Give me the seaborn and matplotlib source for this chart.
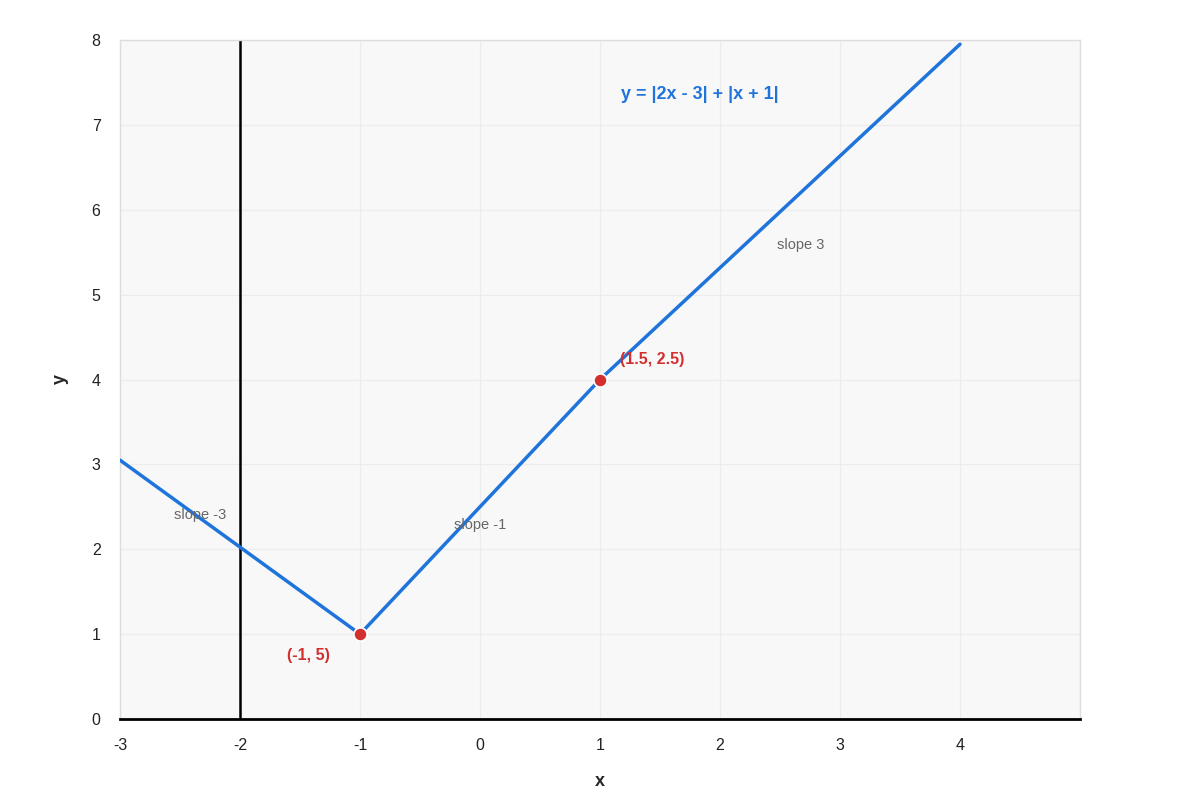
import matplotlib
matplotlib.use("Agg")
import matplotlib.pyplot as plt
import seaborn as sns
import pandas as pd

# Data
line_x = [-3, -1, 1, 4]
line_y = [3.05, 1.0, 4.0, 7.95]
point_x = [-1, 1]
point_y = [1.0, 4.0]
point_labels = ["(-1, 5)", "(1.5, 2.5)"]
slope_labels = ["slope -3", "slope -1", "slope 3"]
slope_x = [-2.33, 0.0, 2.67]
slope_y = [2.40, 2.29, 5.58]
x_ticks = [-3, -2, -1, 0, 1, 2, 3, 4]
y_ticks = [0, 1, 2, 3, 4, 5, 6, 7, 8]
title_text = "y = |2x - 3| + |x + 1|"

sns.set_theme(style="white")
plt.rcParams['font.family'] = ['Liberation Sans', 'DejaVu Sans']

fig = plt.figure(figsize=(12, 8), dpi=100)
ax = fig.add_axes([0.1, 0.10125, 0.8, 0.84875])
ax.set_facecolor("#f8f8f8")

line_df = pd.DataFrame({"x": line_x, "y": line_y})
sns.lineplot(data=line_df, x="x", y="y", ax=ax, color="#1f74dc", linewidth=2.5,
             sort=False, zorder=3)
pts_df = pd.DataFrame({"x": point_x, "y": point_y})
sns.scatterplot(data=pts_df, x="x", y="y", ax=ax, color="#d32f2f", s=90,
                edgecolor="white", linewidth=1.2, zorder=4)

ax.set_xlim(-3, 5)
ax.set_ylim(0, 8)
ax.set_yticks(y_ticks)
ax.set_xticks(list(range(-3, 6)))
ax.set_xticklabels([str(t) for t in x_ticks] + [""])
ax.grid(True, color="#ececec", linewidth=0.9, zorder=0)
ax.set_axisbelow(True)
for s in ["top", "right", "left"]:
    ax.spines[s].set_color("#dddddd")
    ax.spines[s].set_linewidth(1)
ax.spines["bottom"].set_color("black")
ax.spines["bottom"].set_linewidth(2)
ax.axvline(-2, color="black", linewidth=1.8, zorder=2)

ax.tick_params(axis="x", length=0, labelsize=11.5, colors="#222222", pad=14)
ax.tick_params(axis="y", length=0, labelsize=11.5, colors="#222222", pad=14)
ax.set_xlabel("x", fontsize=13, fontweight="bold", labelpad=14)
ax.set_ylabel("y", fontsize=13, fontweight="bold", labelpad=16)

ax.text(-1.43, 0.75, point_labels[0], color="#d32f2f", fontsize=11.5,
        fontweight="bold", ha="center", va="center")
ax.text(1.17, 4.24, point_labels[1], color="#d32f2f", fontsize=11.5,
        fontweight="bold", ha="left", va="center")
for t, xx, yy in zip(slope_labels, slope_x, slope_y):
    ax.text(xx, yy, t, color="#666666", fontsize=10.5, ha="center", va="center")
ax.text(1.83, 7.36, title_text, color="#1f74dc", fontsize=13,
        fontweight="bold", ha="center", va="center")

fig.savefig("out.png", dpi=100)
